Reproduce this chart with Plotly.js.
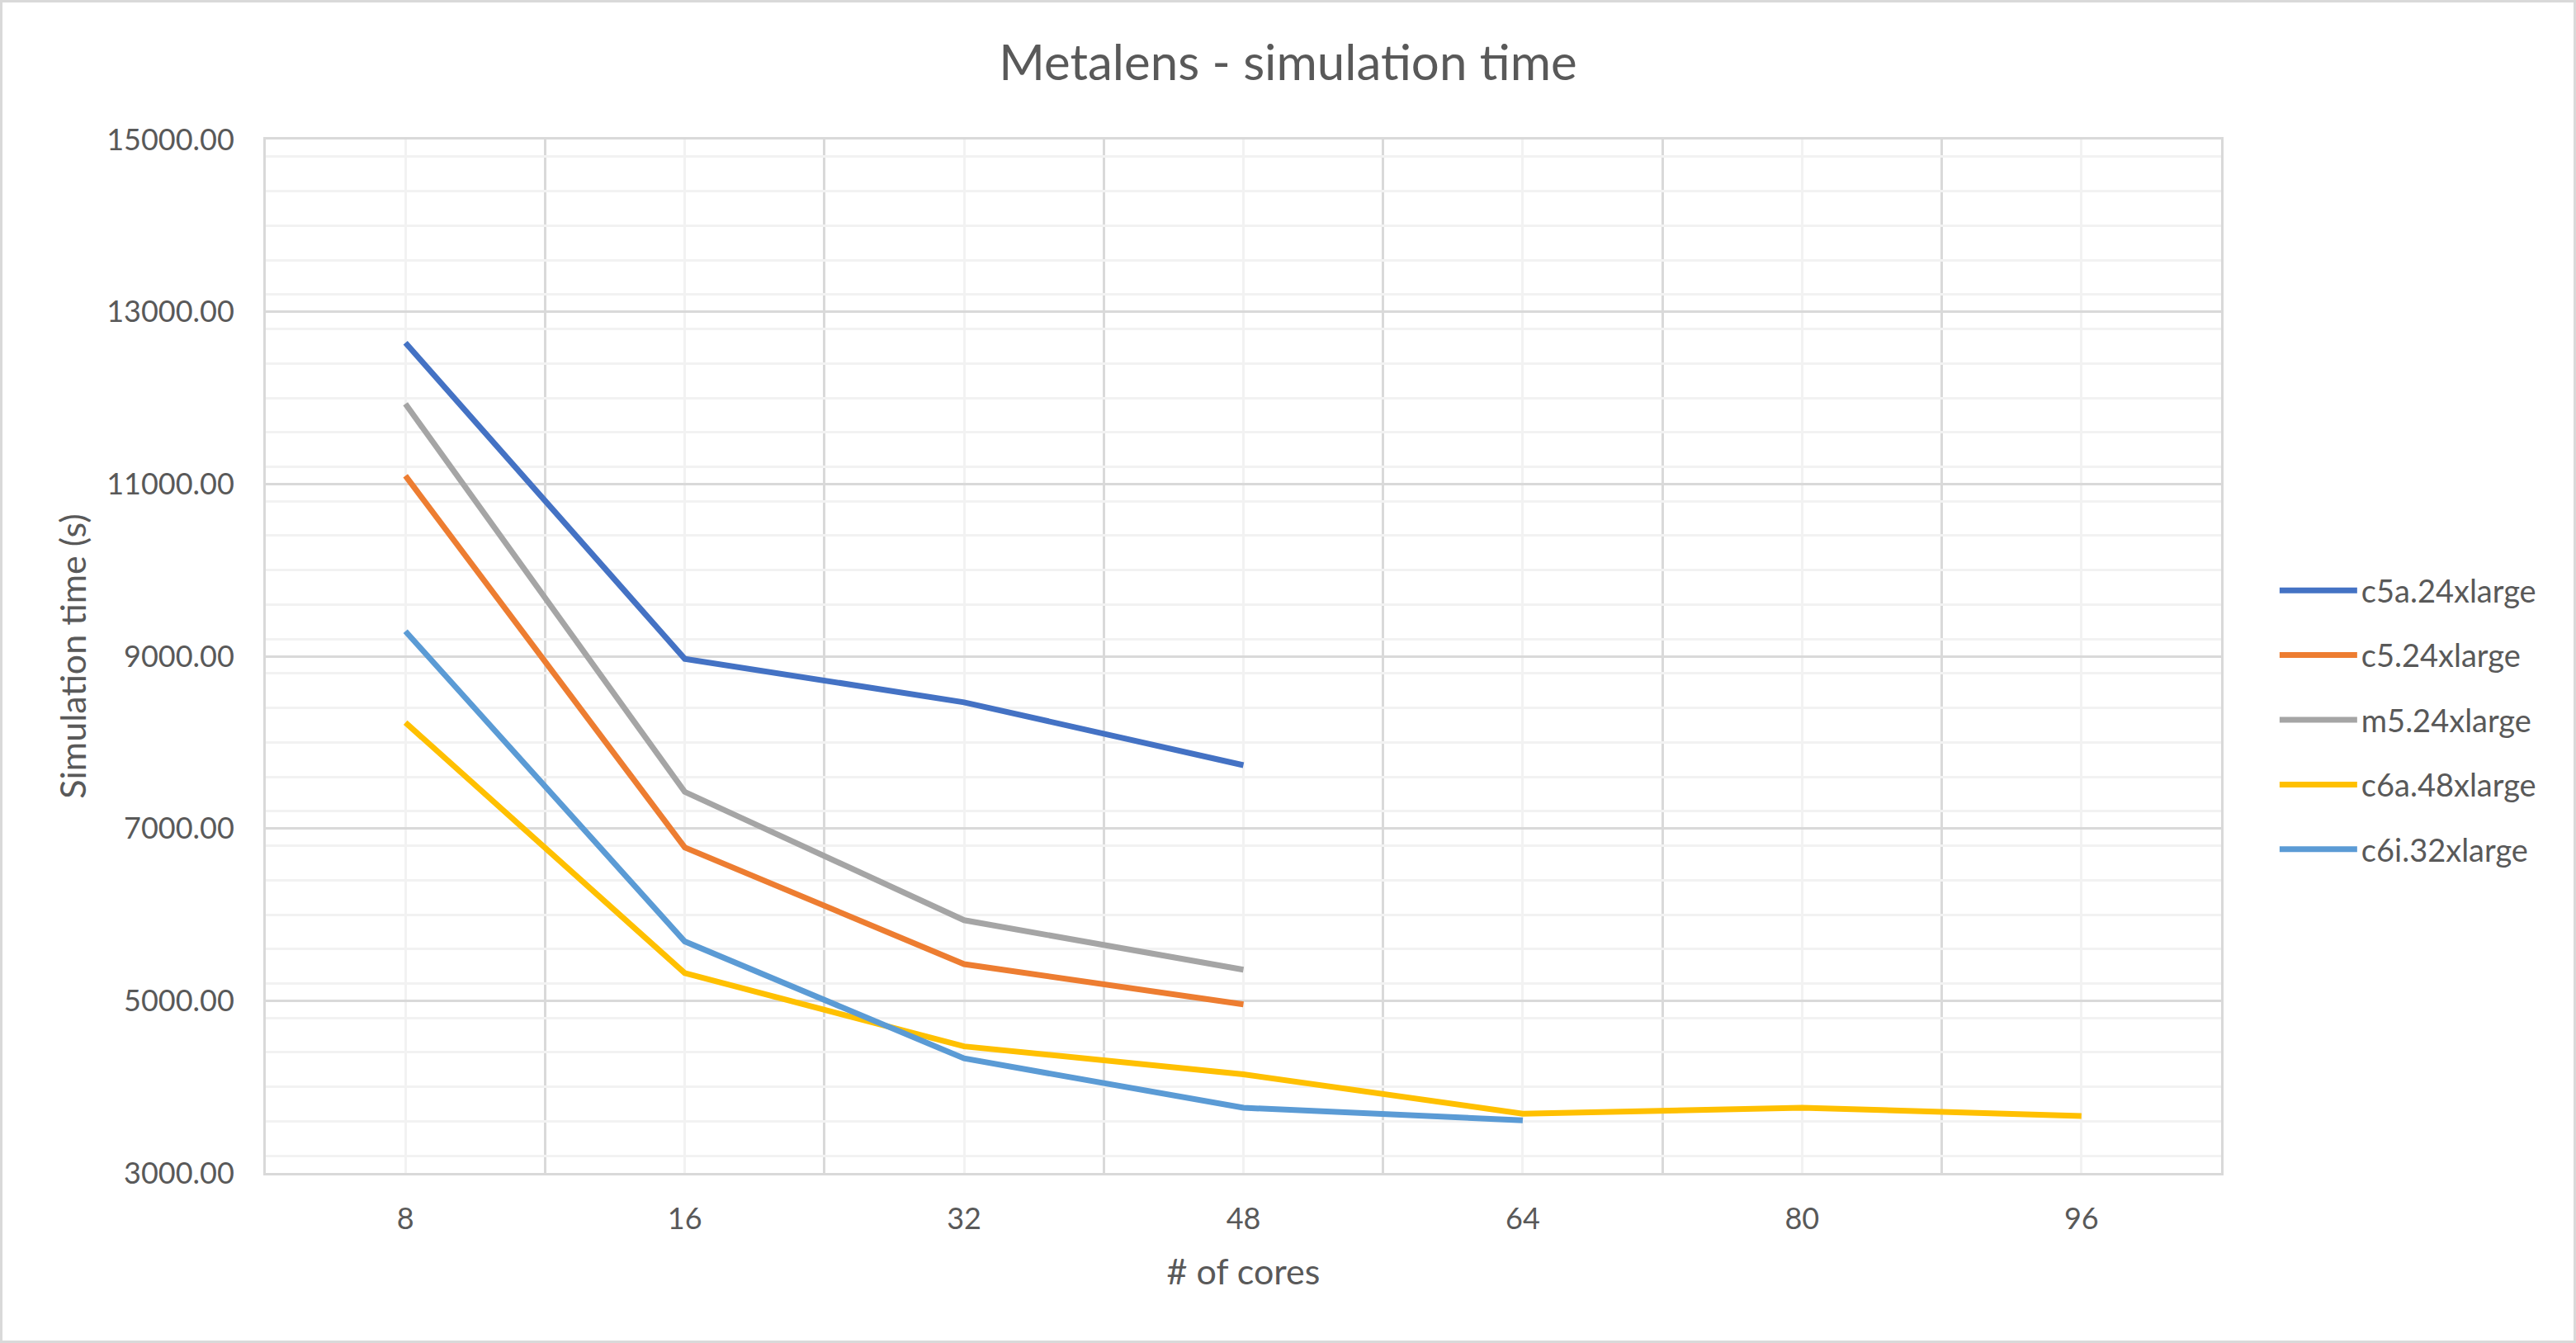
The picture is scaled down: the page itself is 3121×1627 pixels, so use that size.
<!DOCTYPE html>
<html>
<head>
<meta charset="utf-8">
<script src="https://cdn.plot.ly/plotly-3.0.1.min.js"></script>
<style>
  html, body { margin: 0; padding: 0; background: #ffffff; }
  #wrap { position: relative; width: 3121px; height: 1627px; }
  #chart { position: absolute; left: 0; top: 0; width: 3121px; height: 1627px; }
  #frame { position: absolute; left: 0; top: 0; width: 3121px; height: 1627px;
           box-sizing: border-box; border: 3px solid #D9D9D9; pointer-events: none; }
</style>
</head>
<body>
<div id="wrap"><div id="chart"></div><div id="frame"></div></div>
<script>
// ---- data ----
const cores = ["8", "16", "32", "48", "64", "80", "96"];
const c5a_24xlarge = [12640, 8970, 8465, 7735];
const c5_24xlarge  = [11095, 6780, 5425, 4958];
const m5_24xlarge  = [11930, 7425, 5935, 5360];
const c6a_48xlarge = [8230, 5320, 4470, 4145, 3688, 3758, 3662];
const c6i_32xlarge = [9290, 5688, 4330, 3757, 3612];
const seriesNames  = ["c5a.24xlarge", "c5.24xlarge", "m5.24xlarge", "c6a.48xlarge", "c6i.32xlarge"];
const yTicks = [3000, 5000, 7000, 9000, 11000, 13000, 15000];

const seriesValues = [c5a_24xlarge, c5_24xlarge, m5_24xlarge, c6a_48xlarge, c6i_32xlarge];
const colors = ["#4472C4", "#ED7D31", "#A5A5A5", "#FFC000", "#5B9BD5"];
const idx = cores.map((_, i) => i);

const traces = seriesValues.map((vals, s) => ({
  type: "scatter",
  mode: "lines",
  name: seriesNames[s],
  legendgroup: "g" + s,
  x: vals.map((_, i) => idx[i]),
  y: vals,
  line: { color: colors[s], width: 7 },
  hoverinfo: "x+y+name"
}));

const font = "Lato, 'Open Sans', sans-serif";
const txt = "#595959";

const layout = {
  width: 3121, height: 1627,
  paper_bgcolor: "#ffffff", plot_bgcolor: "#ffffff",
  margin: { l: 322, r: 430, t: 169, b: 206, pad: 0 },
  font: { family: font, color: txt, size: 36 },
  title: {
    text: "Metalens - simulation time",
    font: { family: font, size: 60, color: txt },
    x: 0.5, xref: "container", xanchor: "center",
    y: 1 - 76 / 1627, yref: "container", yanchor: "middle"
  },
  xaxis: {
    type: "linear",
    range: [-0.5, 6.5],
    tickmode: "array",
    tickvals: idx,
    ticktext: cores,
    ticks: "",
    showgrid: true, gridcolor: "#F2F2F2", gridwidth: 3,
    minor: {
      tickmode: "array",
      tickvals: idx.map(i => i + 0.5).concat([-0.5]),
      showgrid: true, gridcolor: "#D9D9D9", gridwidth: 3, ticks: ""
    },
    showline: true, linecolor: "#D9D9D9", linewidth: 3, mirror: true,
    zeroline: false,
    tickfont: { family: font, size: 36, color: txt },
    ticklabelstandoff: 22,
    title: { text: "# of cores", font: { family: font, size: 43, color: txt }, standoff: 30 }
  },
  yaxis: {
    range: [3000, 15000],
    tickmode: "array",
    tickvals: yTicks,
    ticktext: yTicks.map(v => v.toFixed(2)),
    ticks: "",
    showgrid: true, gridcolor: "#D9D9D9", gridwidth: 3,
    minor: { dtick: 400, showgrid: true, gridcolor: "#F2F2F2", gridwidth: 3, ticks: "" },
    showline: true, linecolor: "#D9D9D9", linewidth: 3, mirror: true,
    zeroline: false,
    tickfont: { family: font, size: 36, color: txt },
    ticklabelstandoff: 28,
    title: { text: "Simulation time (s)", font: { family: font, size: 43, color: txt }, standoff: 12 }
  },
  showlegend: true,
  legend: {
    x: 1.0278, xanchor: "left",
    y: (1421 - 872) / 1252, yanchor: "middle",
    font: { family: font, size: 38, color: txt },
    tracegroupgap: 26,
    itemwidth: 94,
    bgcolor: "rgba(0,0,0,0)"
  }
};

Plotly.newPlot("chart", traces, layout, { displayModeBar: false, responsive: false });
</script>
</body>
</html>
